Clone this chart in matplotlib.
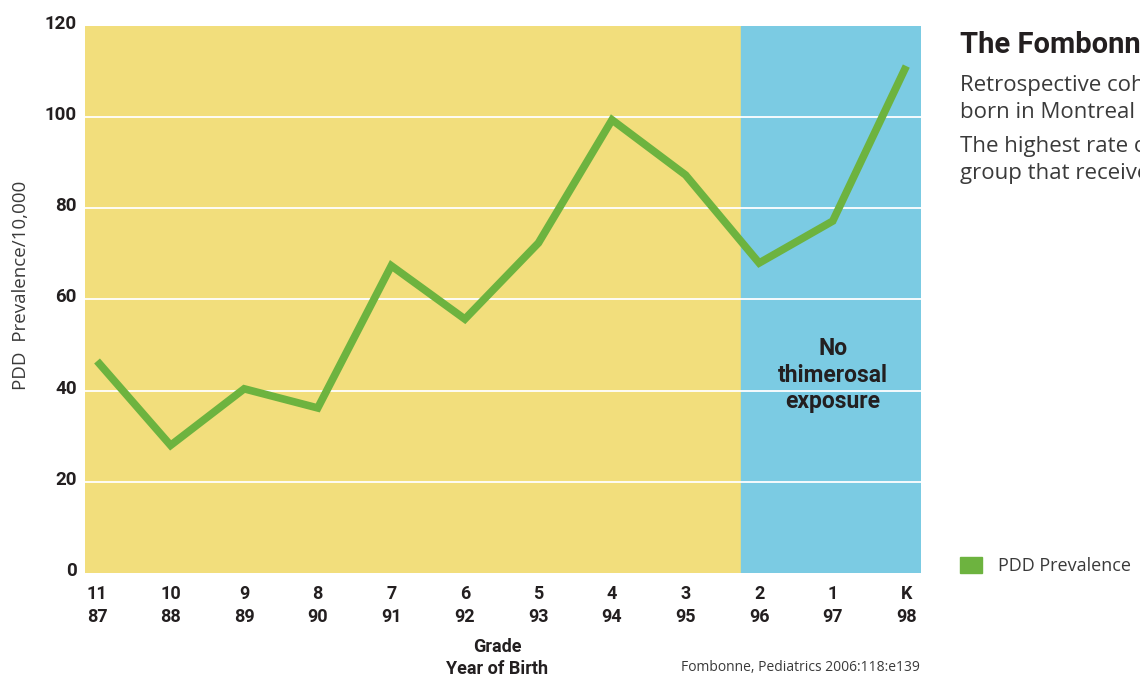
import matplotlib.pyplot as plt
from matplotlib.patches import Rectangle
from matplotlib.transforms import ScaledTranslation

# PDD prevalence per 10,000 by school grade / year of birth
grades = ['11', '10', '9', '8', '7', '6', '5', '4', '3', '2', '1', 'K']
birth_years = ['87', '88', '89', '90', '91', '92', '93', '94', '95', '96', '97', '98']
prevalence = [46.5, 28.0, 40.4, 36.2, 67.4, 55.7, 72.4, 99.4, 87.3, 68.0, 77.2, 111.2]
y_ticks = [0, 20, 40, 60, 80, 100, 120]

side_title = 'The Fombonne Study'
side_lines = ['Retrospective cohort study of children',
              'born in Montreal between 1987 and 1998',
              'The highest rate of PDD was found in the',
              'group that received no thimerosal']

yellow = '#f2de7c'
blue = '#7bcbe3'
green = '#6db33f'
dark = '#231f20'
grey = '#3a3a3a'

bold_font = ['Roboto', 'DejaVu Sans']
body_font = ['Open Sans', 'DejaVu Sans']
plt.rcParams['font.family'] = bold_font

fig = plt.figure(figsize=(11.4, 6.76), dpi=100)
ax = fig.add_axes([0.0746, 0.1524, 0.7333, 0.8092])

x = list(range(len(grades)))
left, right = -0.163, 11.2
split = 8.75
ax.set_xlim(left, right)
ax.set_ylim(0, 120)

ax.axvspan(left, split, color=yellow, zorder=0)
ax.axvspan(split, right, color=blue, zorder=0)
for v in y_ticks[1:-1]:
    ax.axhline(v, color='white', lw=1.3, zorder=1)

ax.plot(x, prevalence, color=green, lw=5.5, solid_capstyle='butt',
        solid_joinstyle='miter', zorder=3)

ax.text(10, 43.4, 'No\nthimerosal\nexposure', ha='center', va='center',
        fontsize=16.5, fontweight='bold', color=dark, linespacing=1.2, zorder=4)

for s in ax.spines.values():
    s.set_visible(False)
ax.set_yticks(y_ticks)
ax.set_yticklabels([str(v) for v in y_ticks], fontsize=13.5, fontweight='bold', color=dark)
ax.set_xticks(x)
ax.set_xticklabels([g + '\n' + b for g, b in zip(grades, birth_years)],
                   fontsize=13, fontweight='bold', color=dark, linespacing=1.3)
ax.tick_params(length=0)
ax.tick_params(axis='y', pad=6)
ax.tick_params(axis='x', pad=9)
up = ScaledTranslation(0, 4 / 100, fig.dpi_scale_trans)
for lbl in ax.get_yticklabels():
    lbl.set_transform(lbl.get_transform() + up)

fig.text(0.018, 0.578, 'PDD  Prevalence/10,000', rotation=90, ha='center', va='center',
         fontsize=13.5, color=grey, family=body_font)
fig.text(0.436, -0.003, 'Grade\nYear of Birth', ha='center', va='bottom',
         fontsize=13, fontweight='bold', color=dark, linespacing=1.3)
fig.text(0.807, 0.002, 'Fombonne, Pediatrics 2006:118:e139', ha='right', va='bottom',
         fontsize=10, color=grey, family=body_font)

# side panel
fig.text(0.842, 0.9216, side_title, fontsize=21, fontweight='bold', color=dark, va='baseline')
for yy, line in zip([0.8654, 0.8254, 0.7751, 0.7352], side_lines):
    fig.text(0.842, yy, line, fontsize=16, color=grey, va='baseline', family=body_font)

fig.patches.append(Rectangle((0.8421, 0.152), 0.0193, 0.024, transform=fig.transFigure,
                             color=green))
fig.text(0.875, 0.163, 'PDD Prevalence', fontsize=13, color=grey, va='center', family=body_font)

fig.savefig('out.png', dpi=100, facecolor='white')
